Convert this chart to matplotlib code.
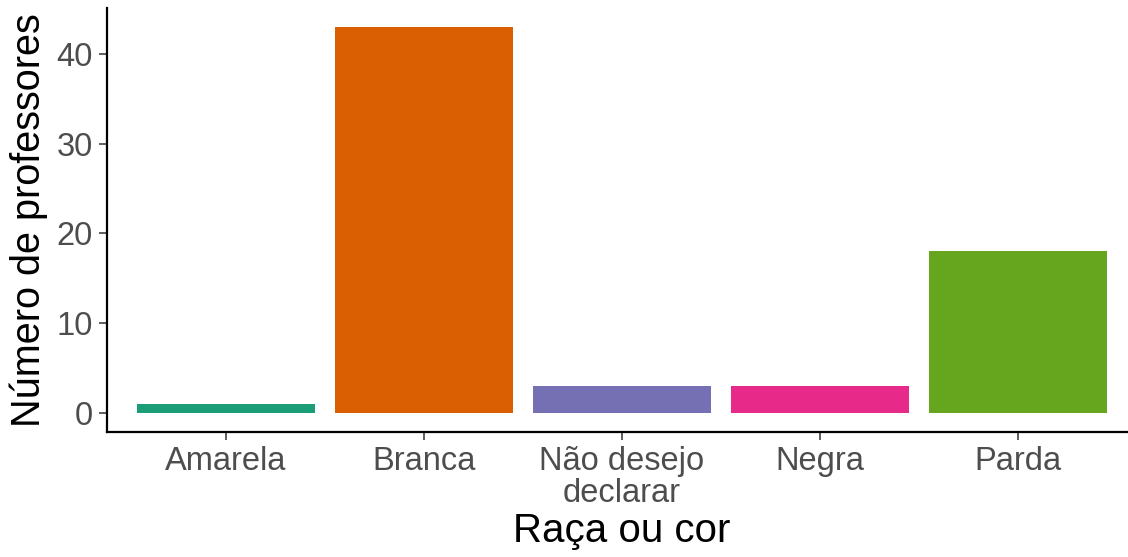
import matplotlib
matplotlib.use("Agg")
import matplotlib.pyplot as plt

categories = ["Amarela", "Branca", "Não desejo\ndeclarar", "Negra", "Parda"]
values = [1, 43, 3, 3, 18]
colors = ["#1B9E77", "#D95F02", "#7570B3", "#E7298A", "#66A61E"]
yticks = [0, 10, 20, 30, 40]

plt.rcParams['font.family'] = ['Liberation Sans', 'DejaVu Sans']

fig = plt.figure(figsize=(11.28, 5.57), dpi=100)
ax = fig.add_axes([107/1128, (557-432)/557, (1137-107)/1128, (432-8)/557])

x = list(range(1, len(categories) + 1))
ax.bar(x, values, width=0.9, color=colors)
ax.set_xlim(0.4, 5.6)
ax.set_ylim(-0.05*43, 43*1.05)
ax.set_xticks(x)
ax.set_xticklabels(categories, fontsize=23.5, color="#4D4D4D", linespacing=1.05)
ax.set_yticks(yticks)
ax.set_yticklabels([str(v) for v in yticks], fontsize=23.5, color="#4D4D4D")
ax.tick_params(axis='both', length=6, width=1.1, color="#333333", pad=4)
for s in ["top", "right"]:
    ax.spines[s].set_visible(False)
for s in ["left", "bottom"]:
    ax.spines[s].set_linewidth(1.6)
    ax.spines[s].set_color("black")
ax.set_xlabel("Raça ou cor", fontsize=29, labelpad=2)
ax.set_ylabel("Número de professores", fontsize=28.5, labelpad=6)

fig.savefig("out.png", dpi=100)
